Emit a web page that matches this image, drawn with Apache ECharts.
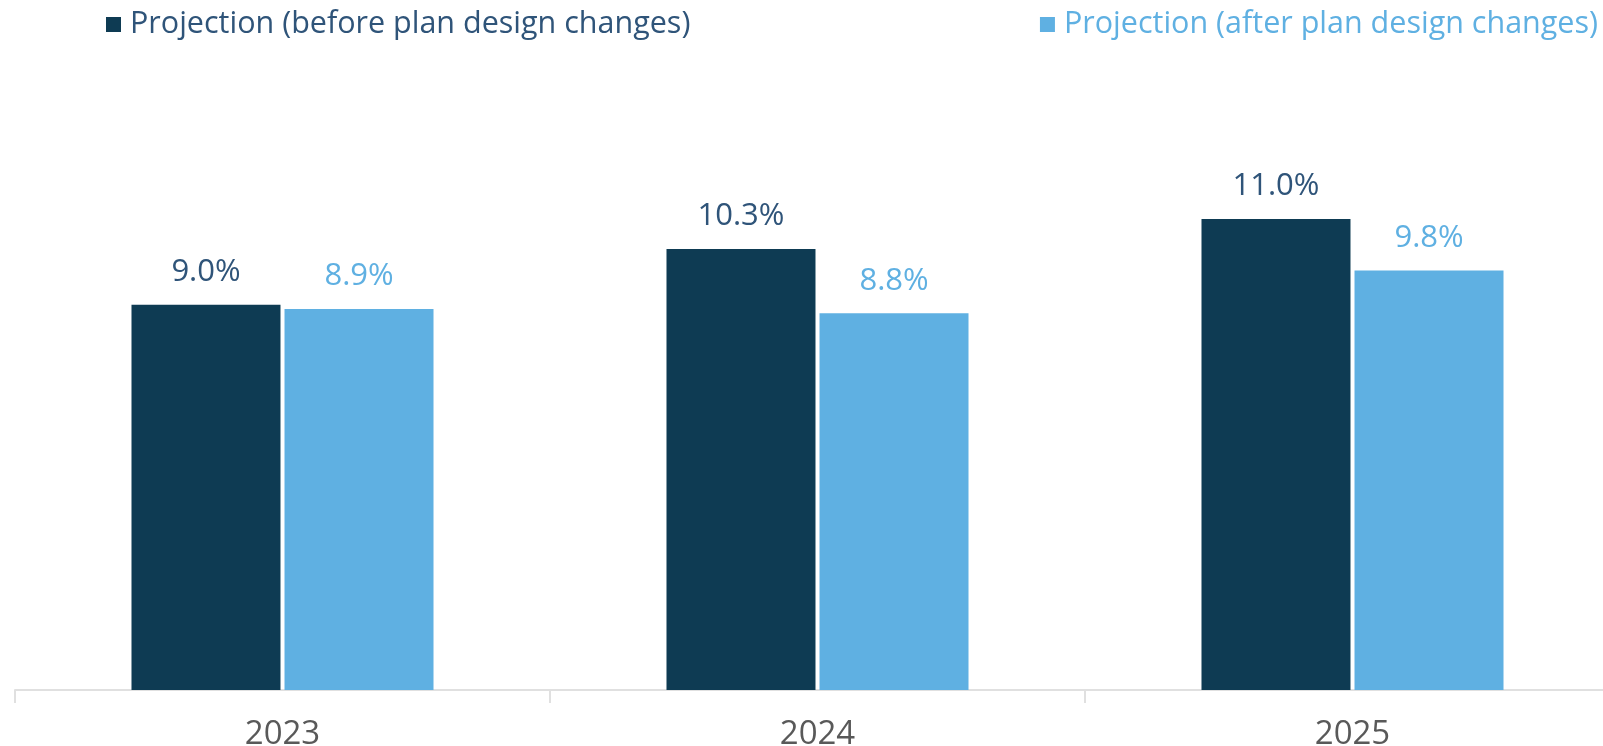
<!DOCTYPE html>
<html>
<head>
<meta charset="utf-8">
<script src="https://cdn.jsdelivr.net/npm/echarts@6/dist/echarts.min.js"></script>
<style>
  html, body { margin: 0; padding: 0; background: #ffffff; }
  #chart { width: 1603px; height: 746px; }
</style>
</head>
<body>
<div id="chart"></div>
<script>
// Plan cost trend projections by year (percent)
const years = ['2023', '2024', '2025'];
const seriesNames = [
  'Projection (before plan design changes)',
  'Projection (after plan design changes)'
];
const beforeChanges = [9.0, 10.3, 11.0];
const afterChanges = [8.9, 8.8, 9.8];

const DARK = '#0e3b53';
const LIGHT = '#5fb0e2';
const DARK_TEXT = '#2f5479';
const FONT = '"Open Sans", "Noto Sans", sans-serif';

const chart = echarts.init(document.getElementById('chart'), null, { renderer: 'canvas' });

const labelStyle = (color) => ({
  show: true,
  position: 'top',
  distance: 17,
  color: color,
  fontSize: 31,
  fontFamily: FONT,
  formatter: (p) => p.value.toFixed(1) + '%'
});

chart.setOption({
  animation: false,
  backgroundColor: '#ffffff',
  legend: [
    {
      data: [seriesNames[0]],
      left: 101,
      top: 4,
      icon: 'rect',
      itemWidth: 15,
      itemHeight: 15,
      itemGap: 0,
      textStyle: { color: DARK_TEXT, fontSize: 30.5, fontFamily: FONT, padding: [0, 0, 0, 4] }
    },
    {
      data: [seriesNames[1]],
      right: 0,
      top: 4,
      icon: 'rect',
      itemWidth: 15,
      itemHeight: 15,
      itemGap: 0,
      textStyle: { color: LIGHT, fontSize: 30.5, fontFamily: FONT, padding: [0, 0, 0, 4] }
    }
  ],
  // the last category runs past the right edge of the canvas
  grid: {
    left: 15, width: 1605, top: 5, bottom: 56,
    containLabel: false, outerBoundsMode: 'none'
  },
  xAxis: {
    type: 'category',
    data: years,
    axisLine: { show: true, lineStyle: { color: '#e0e0e0', width: 2 } },
    axisTick: { show: true, length: 13, lineStyle: { color: '#e0e0e0', width: 2 } },
    axisLabel: { color: '#595959', fontSize: 33, fontFamily: FONT, margin: 28 }
  },
  yAxis: {
    type: 'value',
    min: 0,
    max: 16,
    show: false,
    splitLine: { show: false }
  },
  series: [
    {
      name: seriesNames[0],
      type: 'bar',
      data: beforeChanges,
      barWidth: 149,
      barGap: '2.7%',
      itemStyle: { color: DARK },
      label: labelStyle(DARK_TEXT)
    },
    {
      name: seriesNames[1],
      type: 'bar',
      data: afterChanges,
      barWidth: 149,
      itemStyle: { color: LIGHT },
      label: labelStyle(LIGHT)
    }
  ]
});
</script>
</body>
</html>
